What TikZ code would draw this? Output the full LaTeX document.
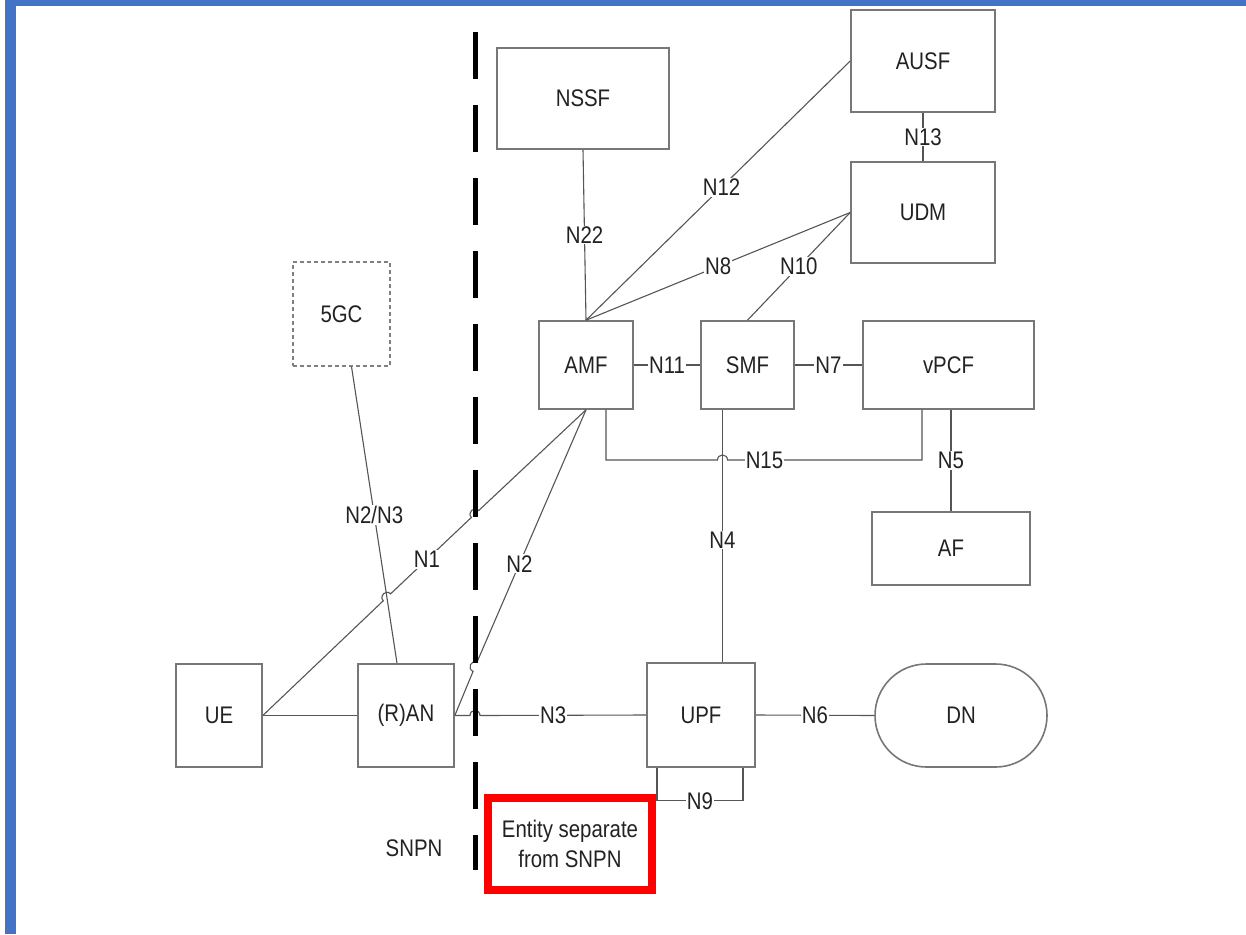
\documentclass[tikz,border=0pt]{standalone}
\usepackage{fontspec}
\setmainfont{Liberation Sans}[FakeStretch=0.85]
\usetikzlibrary{calc,shapes.misc}
\definecolor{frameblue}{HTML}{4472C4}
\definecolor{boxgray}{HTML}{777777}
\definecolor{linegray}{HTML}{555555}
\definecolor{txt}{HTML}{222222}
\begin{document}
\begin{tikzpicture}[x=1pt,y=-1pt,
  nf/.style={draw=boxgray, line width=1.6pt, text=txt, font=\fontsize{24}{28}\selectfont, inner sep=0pt},
  conn/.style={draw=linegray, line width=1.1pt},
  lbl/.style={fill=white, text=txt, font=\fontsize{24}{28}\selectfont, inner sep=1pt},
  jump/.style={bend left=90, looseness=1.7},
  divider/.style={draw=black, line width=5pt, dash pattern=on 47pt off 26pt}
]
\useasboundingbox (0,0) rectangle (1246,934);
\fill[frameblue] (5,0) rectangle (1246,6);
\fill[frameblue] (5,0) rectangle (16,934);

% network functions
\node[nf, minimum width=172pt, minimum height=101pt] (NSSF) at (583,98.5) {NSSF};
\node[nf, minimum width=144pt, minimum height=102pt] (AUSF) at (923,61) {AUSF};
\node[nf, minimum width=144pt, minimum height=101pt] (UDM) at (923,212.5) {UDM};
\node[nf, draw=gray, line width=1.2pt, dash pattern=on 4pt off 3pt, minimum width=97pt, minimum height=104pt] (gc) at (341.5,314) {5GC};
\node[nf, minimum width=94pt, minimum height=88pt] (AMF) at (586,365) {AMF};
\node[nf, minimum width=93pt, minimum height=88pt] (SMF) at (747.5,365) {SMF};
\node[nf, minimum width=171pt, minimum height=88pt] (vPCF) at (948.5,365) {vPCF};
\node[nf, minimum width=158pt, minimum height=73pt] (AF) at (951,548.5) {AF};
\node[nf, minimum width=86pt, minimum height=103pt] (UE) at (219,715.5) {UE};
\node[nf, minimum width=96pt, minimum height=103pt] (RAN) at (406,715.5) {(R)AN};
\node[nf, minimum width=108pt, minimum height=104pt] (UPF) at (701,715) {UPF};
\node[nf, rounded rectangle, minimum width=172pt, minimum height=103pt] (DN) at (961,715.5) {DN};

\node[draw=red, line width=8pt, text=txt, align=center, minimum width=164pt, minimum height=92pt, inner sep=0pt,
      font=\fontsize{24}{30}\selectfont] (ent) at (570,844) {Entity separate\\from SNPN};
\node[text=txt, font=\fontsize{24}{28}\selectfont] (snpn) at (414,848) {SNPN};

% SNPN boundary
\coordinate (divtop) at (475,32);
\coordinate (divbot) at (475,870);

% helper coordinates
\coordinate (n4x) at ($(SMF.south)+(-25,0)$);
\coordinate (n15s) at ($(AMF.south)+(20,0)$);
\coordinate (n15e) at ($(vPCF.south)+(-26.5,0)$);
\coordinate (n15y) at (0,460);
\coordinate (c1) at (386.9,597.3);
\coordinate (c2) at (475,514.0);
\coordinate (c3) at (475,666.7);
\coordinate (c4) at (475,715.5);

% connectors
\draw[conn] (NSSF.south) -- node[lbl]{N22} (AMF.north);
\draw[conn] (AMF.north) -- node[lbl,pos=0.513]{N12} (AUSF.west);
\draw[conn] (AMF.north) -- node[lbl,pos=0.5]{N8} (UDM.west);
\draw[conn] (SMF.north) -- node[lbl]{N10} (UDM.west);
\draw[conn] (AUSF.south) -- node[lbl]{N13} (UDM.north);
\draw[conn] (AMF.east) -- node[lbl]{N11} (SMF.west);
\draw[conn] (SMF.east) -- node[lbl]{N7} (vPCF.west);
\draw[conn] (n15s) -- (n15s |- n15y) -- ($(n4x |- n15y)+(-5,0)$) to[jump] ($(n4x |- n15y)+(5,0)$)
   -- node[lbl,pos=0.19]{N15} (n15e |- n15y) -- (n15e);
\draw[conn] (AF.north |- vPCF.south) -- node[lbl]{N5} (AF.north);
\draw[conn] (n4x) -- node[lbl,pos=0.516]{N4} (n4x |- UPF.north);
\draw[conn] ($(UPF.south)+(-44,0)$) -- ++(0,33) -- node[lbl]{N9} ++(86,0) -- ++(0,-33);
\draw[conn] (UPF.east) -- node[lbl]{N6} (DN.west);
\draw[conn] (UE.east) -- (RAN.west);
\draw[conn] ($(gc.south)+(10,0)$) -- node[lbl]{N2/N3} ($(RAN.north)+(-9,0)$);
\draw[conn] (UE.east) -- ($(c1)!5pt!(UE.east)$) to[jump] ($(c1)!5pt!(AMF.south)$)
   -- node[lbl,pos=0.45]{N1} ($(c2)!5pt!(UE.east)$) to[jump] ($(c2)!5pt!(AMF.south)$) -- (AMF.south);
\draw[conn] (RAN.east) -- ($(c3)!5pt!(RAN.east)$) to[jump] ($(c3)!5pt!(AMF.south)$)
   -- node[lbl,pos=0.39]{N2} (AMF.south);
\draw[conn] (RAN.east) -- ($(c4)+(-5,0)$) to[jump] ($(c4)+(5,0)$) -- node[lbl,pos=0.44]{N3} (UPF.west);

\draw[divider] (divtop) -- (divbot);
\end{tikzpicture}
\end{document}
